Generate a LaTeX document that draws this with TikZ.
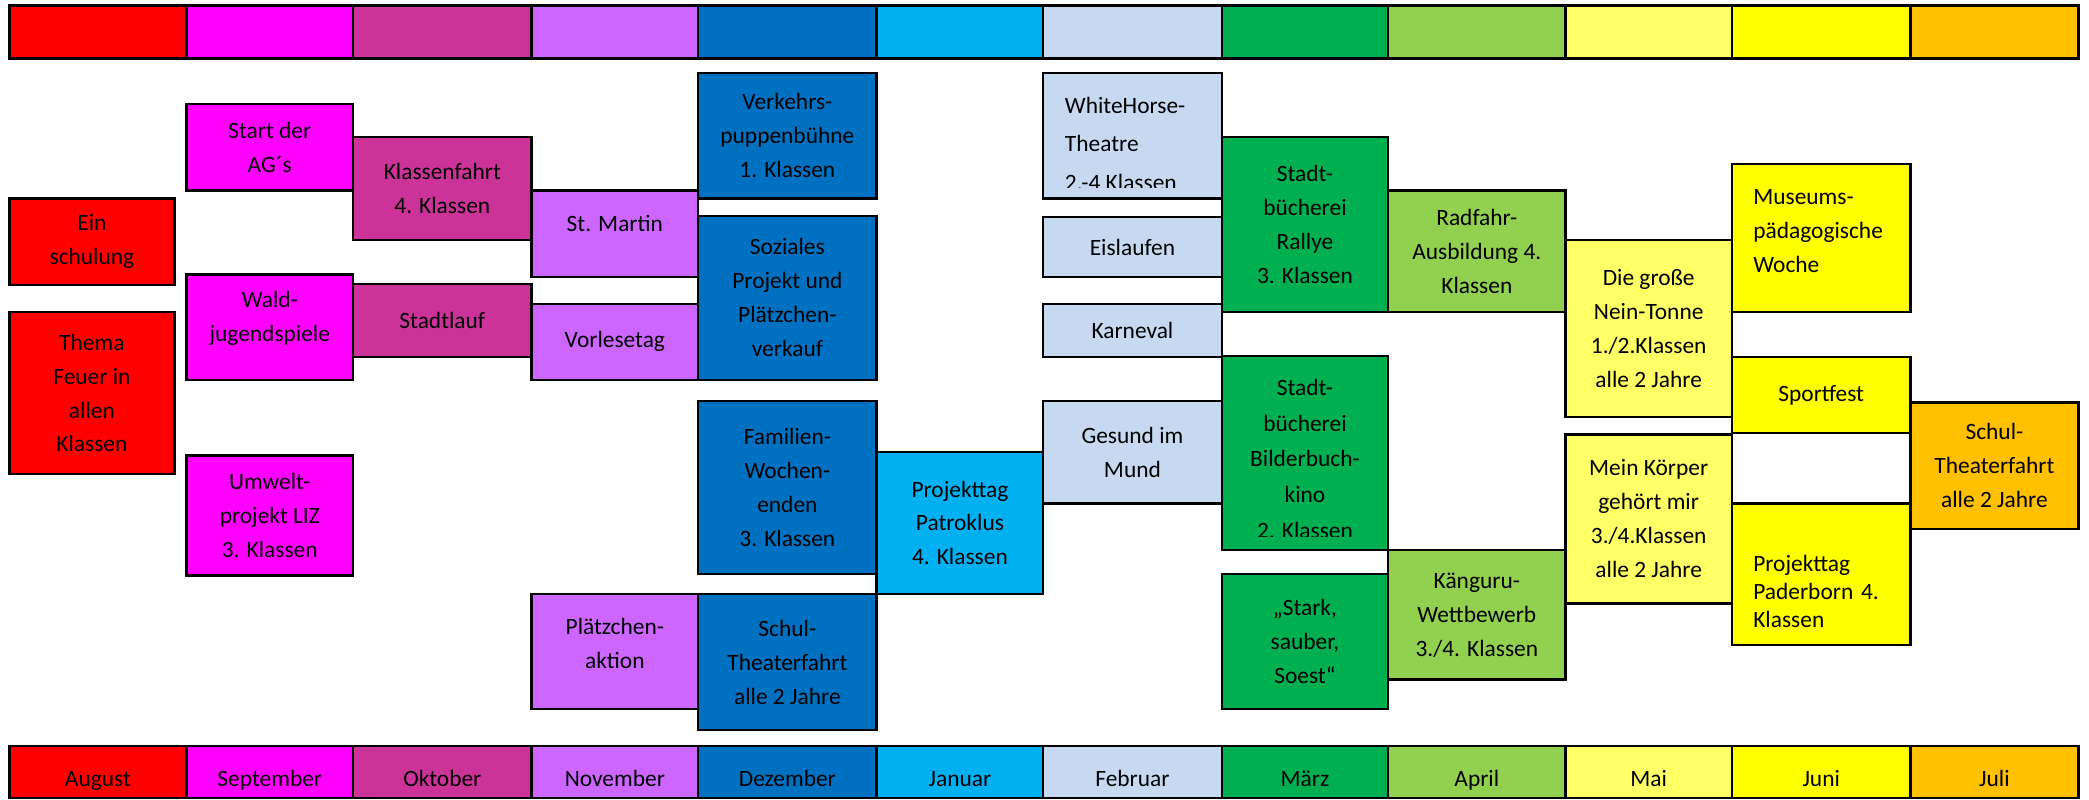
\documentclass[tikz,border=0pt]{standalone}
\usepackage{fontspec}
\setmainfont{Carlito}
\usepackage{tikz}
\definecolor{aug}{HTML}{FF0000}
\definecolor{sep}{HTML}{FF00FF}
\definecolor{okt}{HTML}{CC3399}
\definecolor{nov}{HTML}{CC66FF}
\definecolor{dez}{HTML}{0070C0}
\definecolor{jan}{HTML}{00B0F0}
\definecolor{feb}{HTML}{C6D9F1}
\definecolor{mrz}{HTML}{00B050}
\definecolor{apr}{HTML}{92D050}
\definecolor{mai}{HTML}{FFFF66}
\definecolor{jun}{HTML}{FFFF00}
\definecolor{jul}{HTML}{FFC000}

\begin{document}
\begin{tikzpicture}[x=0.02cm, y=-0.02cm,
  monthbar/.style={draw, line width=1pt, inner sep=0pt, minimum height=0.8cm},
  monthname/.style={draw, line width=1pt, inner sep=0pt, minimum height=0.78cm,
    font=\fontsize{10}{12}\selectfont, text height=12.6pt, text depth=0pt},
  evt/.style={draw, line width=1pt, inner sep=0pt, align=center,
    font=\fontsize{10}{14.5}\selectfont},
  evtleft/.style={draw, line width=1pt, inner ysep=0pt, inner xsep=0.32cm, align=left,
    font=\fontsize{10}{14.5}\selectfont}]
\useasboundingbox (0,0) rectangle (1568,600);

\node[monthbar, fill=aug, minimum width=2.66cm] (augtop) at (73.5,24) {};
\node[monthbar, fill=sep, minimum width=2.5cm] (septop) at (202.5,24) {};
\node[monthbar, fill=okt, minimum width=2.68cm] (okttop) at (332,24) {};
\node[monthbar, fill=nov, minimum width=2.5cm] (novtop) at (461.5,24) {};
\node[monthbar, fill=dez, minimum width=2.68cm] (deztop) at (591,24) {};
\node[monthbar, fill=jan, minimum width=2.5cm] (jantop) at (720.5,24) {};
\node[monthbar, fill=feb, minimum width=2.68cm] (febtop) at (850,24) {};
\node[monthbar, fill=mrz, minimum width=2.5cm] (mrztop) at (979.5,24) {};
\node[monthbar, fill=apr, minimum width=2.66cm] (aprtop) at (1108.5,24) {};
\node[monthbar, fill=mai, minimum width=2.5cm] (maitop) at (1237.5,24) {};
\node[monthbar, fill=jun, minimum width=2.68cm] (juntop) at (1367,24) {};
\node[monthbar, fill=jul, minimum width=2.52cm] (jultop) at (1497,24) {};

\node[monthname, fill=aug, minimum width=2.66cm] (august) at (73.5,579.5) {August};
\node[monthname, fill=sep, minimum width=2.5cm] (september) at (202.5,579.5) {September};
\node[monthname, fill=okt, minimum width=2.68cm] (oktober) at (332,579.5) {Oktober};
\node[monthname, fill=nov, minimum width=2.5cm] (november) at (461.5,579.5) {November};
\node[monthname, fill=dez, minimum width=2.68cm] (dezember) at (591,579.5) {Dezember};
\node[monthname, fill=jan, minimum width=2.5cm] (januar) at (720.5,579.5) {Januar};
\node[monthname, fill=feb, minimum width=2.68cm] (februar) at (850,579.5) {Februar};
\node[monthname, fill=mrz, minimum width=2.5cm] (maerz) at (979.5,579.5) {März};
\node[monthname, fill=apr, minimum width=2.66cm] (april) at (1108.5,579.5) {April};
\node[monthname, fill=mai, minimum width=2.5cm] (mai) at (1237.5,579.5) {Mai};
\node[monthname, fill=jun, minimum width=2.68cm] (juni) at (1367,579.5) {Juni};
\node[monthname, fill=jul, minimum width=2.52cm] (juli) at (1497,579.5) {Juli};

\node[evt, fill=aug, minimum width=2.48cm, minimum height=1.3cm] (einschulung) at (69,181.5) {Ein\\schulung};
\node[evt, fill=aug, minimum width=2.48cm, minimum height=2.44cm] (feuer) at (69,295) {Thema\\Feuer in\\allen\\Klassen};

\node[evt, fill=sep, minimum width=2.5cm, minimum height=1.3cm] (ags) at (202.5,110.5) {Start der\\AG´s};
\node[evt, fill=sep, minimum width=2.5cm, minimum height=1.58cm, text depth=9pt] (wald) at (202.5,245.5) {Wald-\\jugendspiele};
\node[evt, fill=sep, minimum width=2.5cm, minimum height=1.8cm] (umwelt) at (202.5,387) {Umwelt-\\projekt LIZ\\3. Klassen};

\node[evt, fill=okt, minimum width=2.68cm, minimum height=1.54cm] (klassenfahrt) at (332,141.5) {Klassenfahrt\\4. Klassen};
\node[evt, fill=okt, minimum width=2.68cm, minimum height=1.1cm] (stadtlauf) at (332,240.5) {Stadtlauf};

\node[evt, fill=nov, minimum width=2.5cm, minimum height=1.3cm, text depth=9pt] (martin) at (461.5,175.5) {St. Martin};
\node[evt, fill=nov, minimum width=2.5cm, minimum height=1.14cm] (vorlesetag) at (461.5,256.5) {Vorlesetag};
\node[evt, fill=nov, minimum width=2.5cm, minimum height=1.72cm, text depth=6.8pt] (plaetzchen) at (461.5,489) {Plätzchen-\\aktion};

\node[evt, fill=dez, minimum width=2.68cm, minimum height=1.88cm] (puppen) at (591,102) {Verkehrs-\\puppenbühne\\1. Klassen};
\node[evt, fill=dez, minimum width=2.68cm, minimum height=2.46cm] (sozial) at (591,223.5) {Soziales\\Projekt und\\Plätzchen-\\verkauf};
\node[evt, fill=dez, minimum width=2.68cm, minimum height=2.6cm] (familien) at (591,366) {Familien-\\Wochen-\\enden\\3. Klassen};
\node[evt, fill=dez, minimum width=2.68cm, minimum height=2.04cm] (theaterdez) at (591,497) {Schul-\\Theaterfahrt\\alle 2 Jahre};

\node[evt, fill=jan, minimum width=2.5cm, minimum height=2.14cm] (patroklus) at (720.5,392.5) {Projekttag\\Patroklus\\4. Klassen};

\node[evt, fill=feb, minimum width=2.68cm, minimum height=1.88cm] (whitehorse) at (850,102) {};
\begin{scope}
\clip (785,57) rectangle (915,141);
\node[font=\fontsize{10}{16.4}\selectfont, align=left, anchor=north west, inner sep=0pt] (whitehorsetext) at (799,72.7) {WhiteHorse-\\Theatre\\2.-4 Klassen};
\end{scope}
\node[evt, fill=feb, minimum width=2.68cm, minimum height=0.9cm] (eislaufen) at (850,185.5) {Eislaufen};
\node[evt, fill=feb, minimum width=2.68cm, minimum height=0.8cm] (karneval) at (850,248) {Karneval};
\node[evt, fill=feb, minimum width=2.68cm, minimum height=1.54cm] (gesund) at (850,339.5) {Gesund im\\Mund};

\node[evt, fill=mrz, minimum width=2.5cm, minimum height=2.62cm] (rallye) at (979.5,168.5) {Stadt-\\bücherei\\Rallye\\3. Klassen};
\node[evt, fill=mrz, minimum width=2.5cm, minimum height=2.92cm] (bilderbuch) at (979.5,340) {};
\begin{scope}
\clip (919,269) rectangle (1040,403);
\node[font=\fontsize{10}{15.3}\selectfont, align=center, anchor=north, inner sep=0pt] (bilderbuchtext) at (979.5,284.2) {Stadt-\\bücherei\\Bilderbuch-\\kino\\2. Klassen};
\end{scope}
\node[evt, fill=mrz, minimum width=2.5cm, minimum height=2.02cm] (soest) at (979.5,481.5) {„Stark,\\sauber,\\Soest“};

\node[evt, fill=apr, minimum width=2.66cm, minimum height=1.82cm] (radfahr) at (1108.5,188.5) {Radfahr-\\Ausbildung 4.\\Klassen};
\node[evt, fill=apr, minimum width=2.66cm, minimum height=1.94cm] (kaenguru) at (1108.5,461.5) {Känguru-\\Wettbewerb\\3./4. Klassen};

\node[evt, fill=mai, minimum width=2.5cm, minimum height=2.66cm] (neintonne) at (1237.5,246.5) {Die große\\Nein-Tonne\\1./2.Klassen\\alle 2 Jahre};
\node[evt, fill=mai, minimum width=2.5cm, minimum height=2.54cm] (koerper) at (1237.5,389.5) {Mein Körper\\gehört mir\\3./4.Klassen\\alle 2 Jahre};

\node[evtleft, fill=jun, minimum width=2.68cm, minimum height=2.22cm, text width=2.04cm, text depth=34.6pt] (museum) at (1367,178.5) {Museums-\\pädagogische\\Woche};
\node[evt, fill=jun, minimum width=2.68cm, minimum height=1.14cm] (sportfest) at (1367,296.5) {Sportfest};
\node[evtleft, fill=jun, minimum width=2.68cm, minimum height=2.12cm, text width=2.04cm,
  font=\fontsize{10}{11.9}\selectfont, text height=21.8pt] (paderborn) at (1367,431) {Projekttag\\Paderborn 4.\\Klassen};

\node[evt, fill=jul, minimum width=2.52cm, minimum height=1.9cm] (theaterjul) at (1497,349.5) {Schul-\\Theaterfahrt\\alle 2 Jahre};
\end{tikzpicture}
\end{document}
